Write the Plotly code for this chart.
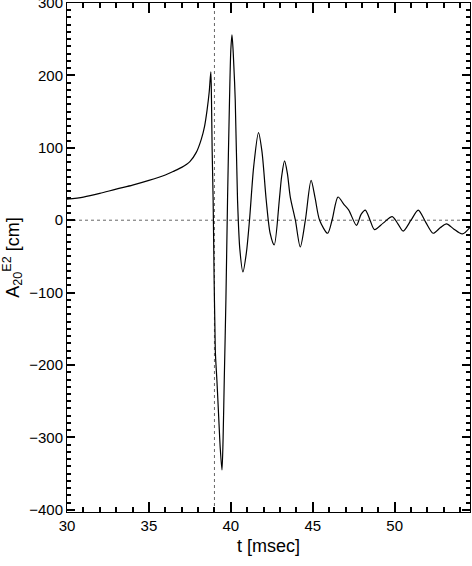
import plotly.graph_objects as go

# time in msec
t_vals = [30, 31, 32, 33, 34, 35, 36, 36.5, 37, 37.5, 37.9, 38.2, 38.4, 38.55, 38.68, 38.78,
          38.82, 38.86, 38.92, 38.98, 39.03, 39.06, 39.15, 39.25, 39.35, 39.46,
          39.53, 39.6, 39.7, 39.8, 39.92, 40.0, 40.07, 40.15, 40.27, 40.41, 40.55, 40.74,
          40.95, 41.14, 41.4, 41.69, 41.9, 42.16, 42.4, 42.65, 42.96, 43.1, 43.28, 43.45,
          43.63, 43.94, 44.24, 44.55, 44.9, 45.15, 45.42, 45.91, 46.18, 46.54, 46.9, 47.2,
          47.67, 47.95, 48.21, 48.5, 48.77, 49.3, 49.85, 50.2, 50.52, 51.0, 51.44, 51.9,
          52.35, 52.8, 53.17, 53.6, 54.13, 54.63]
# amplitude in cm
a_vals = [29, 32, 37, 43, 48.5, 55, 62.5, 67.5, 73, 81, 94, 112, 130, 152, 177, 205,
          166, 97, 28, -80, -150, -184, -221, -267, -313, -345,
          -300, -220, -110, 28, 166, 235, 256, 230, 166, 28, -40, -71.5,
          -45, 0, 75, 121, 95, 28, -18, -34, 28, 60, 82, 65,
          32, 0, -37, 0, 55, 30, 0, -18, 0, 32, 22, 14,
          -7, 8, 14, 0, -13, -4, 5, -5, -15, 0, 14, -3,
          -18, -10, -5, -12, -19, -9]

x_range = [30, 54.6]
y_range = [-403, 300]
bounce_t = 39.0

fig = go.Figure()
# dotted reference lines (bounce time and zero level)
fig.add_trace(go.Scatter(x=[bounce_t, bounce_t], y=y_range, mode="lines",
                         line=dict(color="#666666", width=1, dash="dot"),
                         showlegend=False, hoverinfo="skip"))
fig.add_trace(go.Scatter(x=x_range, y=[0, 0], mode="lines",
                         line=dict(color="#666666", width=1, dash="dot"),
                         showlegend=False, hoverinfo="skip"))
fig.add_trace(go.Scatter(x=t_vals, y=a_vals, mode="lines",
                         line=dict(color="black", width=1.2, shape="spline", smoothing=0.8),
                         showlegend=False, hoverinfo="skip"))

font = dict(family="Liberation Sans, Arial, Helvetica, sans-serif", size=15, color="black")

fig.update_layout(
    width=472, height=566,
    margin=dict(l=67, r=2, t=3, b=54),
    paper_bgcolor="white", plot_bgcolor="white",
    font=font,
    xaxis=dict(range=x_range, dtick=5,
               ticks="inside", ticklen=10, tickwidth=1.5, tickcolor="black",
               minor=dict(dtick=1, ticks="inside", ticklen=5, tickcolor="black"),
               showline=True, linecolor="black", mirror="allticks",
               showgrid=False, automargin=False,
               title=dict(text="t [msec]", standoff=6)),
    yaxis=dict(range=y_range, dtick=100,
               ticks="inside", ticklen=8, tickwidth=1.5, tickcolor="black",
               minor=dict(dtick=10, ticks="inside", ticklen=4, tickcolor="black"),
               showline=True, linecolor="black", mirror="allticks",
               showgrid=False, automargin=False, ticklabeloverflow="allow",
               title=dict(text="A<sub>20</sub><sup>E2</sup> [cm]", standoff=6)),
)

fig.write_html("out.html", config={"responsive": False, "displayModeBar": False},
               post_script="document.body.style.margin='0';document.body.style.overflow='hidden';")
